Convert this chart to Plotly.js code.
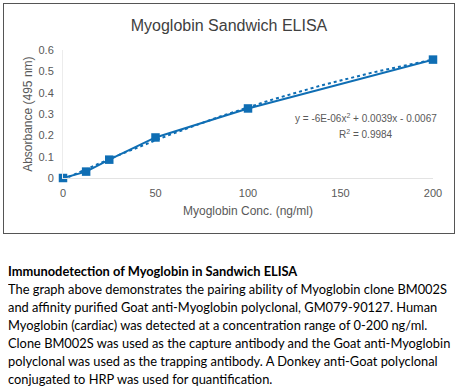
<!DOCTYPE html>
<html>
<head>
<meta charset="utf-8">
<script src="https://cdn.plot.ly/plotly-3.0.1.min.js"></script>
<style>
  html, body { margin: 0; padding: 0; background: #fff; width: 460px; height: 392px; overflow: hidden; }
  #frame { position: absolute; left: 3px; top: 3px; width: 450px; height: 229px; border: 1.5px solid #555; }
  #chart { width: 450px; height: 229px; }
  #caption { position: absolute; left: 8px; top: 262px; font-family: Lato, "Liberation Sans", sans-serif; font-size: 14px; line-height: 18px; color: #000; white-space: nowrap; transform-origin: 0 0; }
  #caption .h { font-weight: bold; }
  #caption div { display: block; }
</style>
</head>
<body>
<div id="frame"><div id="chart"></div></div>
<div id="caption">
  <div class="h">Immunodetection of Myoglobin in Sandwich ELISA</div>
  <div id="l1">The graph above demonstrates the pairing ability of Myoglobin clone BM002S</div>
  <div>and affinity purified Goat anti-Myoglobin polyclonal, GM079-90127. Human</div>
  <div>Myoglobin (cardiac) was detected at a concentration range of 0-200 ng/ml.</div>
  <div>Clone BM002S was used as the capture antibody and the Goat anti-Myoglobin</div>
  <div>polyclonal was used as the trapping antibody. A Donkey anti-Goat polyclonal</div>
  <div>conjugated to HRP was used for quantification.</div>
</div>
<script>
const concentration = [0, 12.5, 25, 50, 100, 200];
const absorbance = [0, 0.03, 0.086, 0.19, 0.326, 0.555];
const xTicks = [0, 50, 100, 150, 200];
const yTicks = [0, 0.1, 0.2, 0.3, 0.4, 0.5, 0.6];
const equationText = "y = -6E-06x<sup>2</sup> + 0.0039x - 0.0067";
const r2Text = "R<sup>2</sup> = 0.9984";

// fit the caption's longest line to the reference width (439px)
(function () {
  const cap = document.getElementById('caption');
  const l1 = document.getElementById('l1');
  const r = document.createRange(); r.selectNodeContents(l1);
  const w = r.getBoundingClientRect().width;
  if (w > 0) cap.style.transform = 'scaleX(' + (439 / w) + ')';
})();

// Quadratic least-squares trendline fitted to the data (as Excel does)
function quadFit(xs, ys) {
  let S = [0,0,0,0,0], T = [0,0,0];
  for (let i = 0; i < xs.length; i++) {
    let p = 1;
    for (let k = 0; k < 5; k++) { S[k] += p; if (k < 3) T[k] += p * ys[i]; p *= xs[i]; }
  }
  const A = [[S[0],S[1],S[2],T[0]],[S[1],S[2],S[3],T[1]],[S[2],S[3],S[4],T[2]]];
  for (let c = 0; c < 3; c++) {
    for (let r = c + 1; r < 3; r++) {
      const f = A[r][c] / A[c][c];
      for (let k = c; k < 4; k++) A[r][k] -= f * A[c][k];
    }
  }
  const sol = [0,0,0];
  for (let r = 2; r >= 0; r--) {
    let s = A[r][3];
    for (let k = r + 1; k < 3; k++) s -= A[r][k] * sol[k];
    sol[r] = s / A[r][r];
  }
  return sol;
}
const coef = quadFit(concentration, absorbance);
const trendX = [], trendY = [];
for (let i = 0; i <= 100; i++) {
  const x = concentration[0] + (concentration[concentration.length-1] - concentration[0]) * i / 100;
  trendX.push(x);
  trendY.push(coef[0] + coef[1]*x + coef[2]*x*x);
}

const blue = '#0F6EB4';
const grey = '#595959';
const font = 'Liberation Sans, Arial, sans-serif';

const traces = [
  { x: trendX, y: trendY, type: 'scatter', mode: 'lines',
    line: { color: blue, width: 2, dash: 'dot' }, hoverinfo: 'skip', cliponaxis: false },
  { x: concentration, y: absorbance, type: 'scatter', mode: 'lines+markers',
    line: { color: blue, width: 2 }, marker: { symbol: 'square', size: 8.5, color: blue },
    cliponaxis: false }
];

const layout = {
  width: 450, height: 229,
  margin: { l: 59, r: 21, t: 46, b: 55 },
  paper_bgcolor: '#fff', plot_bgcolor: '#fff',
  showlegend: false,
  font: { family: font, color: grey, size: 11 },
  title: { text: 'Myoglobin Sandwich ELISA', font: { family: font, size: 16, color: '#404040' },
           x: 0.5, xanchor: 'center', y: 0.905, yanchor: 'middle' },
  xaxis: {
    range: [0, 200], tickvals: xTicks, ticktext: xTicks.map(String),
    showgrid: false, zeroline: false, showline: true, linecolor: '#e3e3e3', linewidth: 1,
    ticks: '', ticklen: 0, ticklabelstandoff: 5, tickfont: { size: 11, color: grey },
    title: { text: 'Myoglobin Conc. (ng/ml)', font: { size: 12, color: grey }, standoff: 8 }
  },
  yaxis: {
    range: [0, 0.6], tickvals: yTicks, ticktext: yTicks.map(v => String(v)),
    showgrid: false, zeroline: false, showline: true, linecolor: '#ececec', linewidth: 1,
    ticks: '', ticklabelstandoff: 6, tickfont: { size: 11, color: grey },
    automargin: false
  },
  annotations: [
    { x: -0.095, y: 0.5, xref: 'paper', yref: 'paper', text: 'Absorbance (495 nm)', textangle: -90,
      showarrow: false, xanchor: 'center', yanchor: 'middle', font: { size: 12, color: grey } },
    { x: 164, y: 0.281, xref: 'x', yref: 'y', text: equationText, showarrow: false,
      xanchor: 'center', yanchor: 'middle', font: { size: 10, color: grey } },
    { x: 164, y: 0.206, xref: 'x', yref: 'y', text: r2Text, showarrow: false,
      xanchor: 'center', yanchor: 'middle', font: { size: 10, color: grey } }
  ]
};

Plotly.newPlot('chart', traces, layout, { displayModeBar: false, staticPlot: true });
</script>
</body>
</html>
